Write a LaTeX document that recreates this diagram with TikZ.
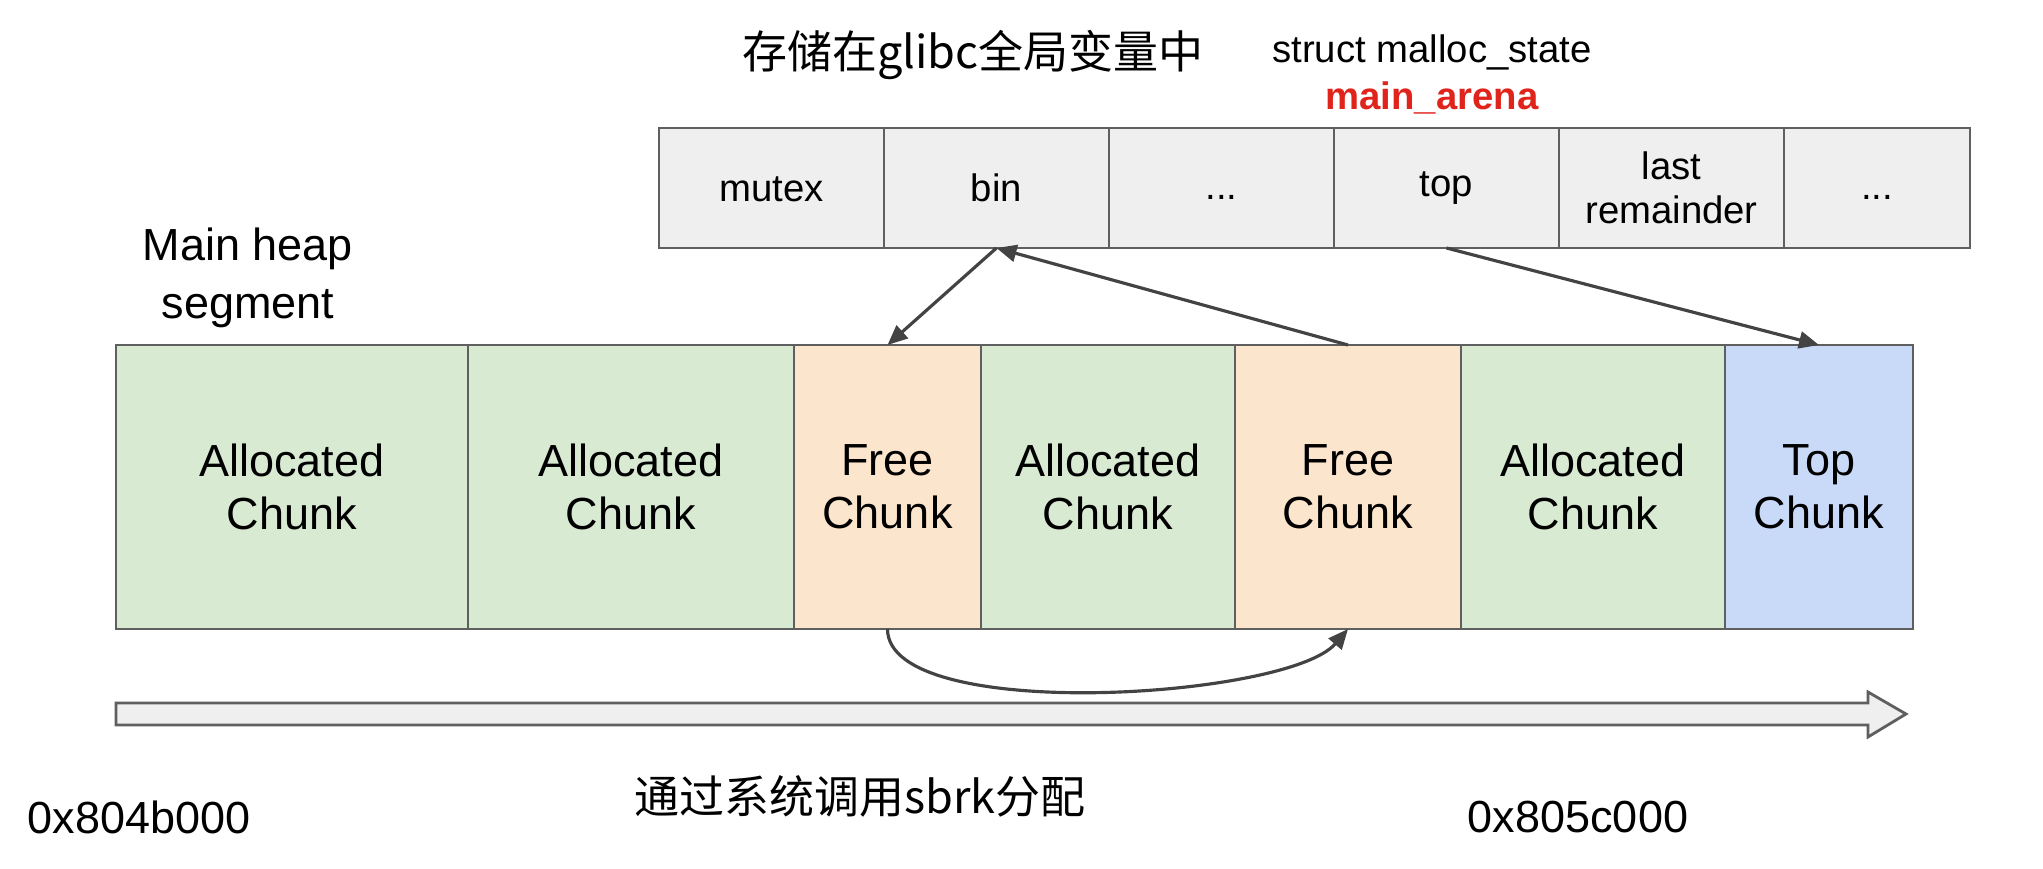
\documentclass[tikz,border=0pt]{standalone}
\usepackage{fontspec}
\setmainfont{Liberation Sans}
\newfontfamily\cjk{Noto Sans CJK SC}
\usetikzlibrary{positioning,arrows.meta}

\definecolor{allocgreen}{HTML}{D9EAD3}
\definecolor{freeorange}{HTML}{FCE5CD}
\definecolor{topblue}{HTML}{C9DAF8}
\definecolor{fieldgray}{HTML}{EFEFEF}
\definecolor{edgegray}{HTML}{5F5F5F}
\definecolor{linkgray}{HTML}{434343}
\definecolor{arenared}{HTML}{E0241B}

\begin{document}
\begin{tikzpicture}[
  field/.style={
    rectangle,
    draw=edgegray,
    line width=0.7pt,
    fill=fieldgray,
    minimum width=2.25cm,
    minimum height=1.2cm,
    inner sep=0pt,
    outer sep=0pt,
    align=center,
    font=\fontsize{10.9}{12.6}\selectfont
  },
  chunk/.style={
    rectangle,
    draw=edgegray,
    line width=0.7pt,
    minimum height=2.84cm,
    inner sep=0pt,
    outer sep=0pt,
    align=center,
    font=\fontsize{12.8}{15.2}\selectfont
  },
  alloc/.style={chunk, fill=allocgreen},
  freed/.style={chunk, fill=freeorange},
  ptr/.style={-{Triangle[length=0.2cm,width=0.17cm]}, linkgray, line width=0.9pt},
  caption/.style={inner sep=0pt, align=center, font=\fontsize{12.8}{16.3}\selectfont}
]
  \useasboundingbox (0,0) rectangle (20.43,-8.69);

  % main_arena fields
  \node[field] (mutex) at (7.715,-1.88) {mutex\vphantom{b}};
  \node[field, right=0pt of mutex] (bin) {bin};
  \node[field, right=0pt of bin] (dotsa) {\raisebox{-3.4pt}[0pt][0pt]{...}};
  \node[field, right=0pt of dotsa] (topf) {top};
  \node[field, right=0pt of topf] (lastrem) {last\\remainder};
  \node[field, right=0pt of lastrem, minimum width=1.86cm] (dotsb) {\raisebox{-3.4pt}[0pt][0pt]{...}};

  \node[caption, font=\cjk\fontsize{12.8}{15}\selectfont] (store) at (9.73,-0.55) {存储在glibc全局变量中};
  \node[caption, font=\fontsize{10.9}{13}\selectfont] (stype) at (14.32,-0.52) {struct malloc\_state};
  \node[caption, font=\bfseries\fontsize{10.9}{13}\selectfont, text=arenared] (arena) at (14.32,-0.98) {main\_arena};

  % heap chunks
  \node[caption] (heap) at (2.48,-2.78) {Main heap\\segment};
  \node[alloc, minimum width=3.52cm] (ca) at (2.92,-4.87) {Allocated\\Chunk};
  \node[alloc, minimum width=3.26cm, right=0pt of ca] (cb) {Allocated\\Chunk};
  \node[freed, minimum width=1.87cm, right=0pt of cb] (fa) {Free\\Chunk};
  \node[alloc, minimum width=2.54cm, right=0pt of fa] (cc) {Allocated\\Chunk};
  \node[freed, minimum width=2.26cm, right=0pt of cc] (fb) {Free\\Chunk};
  \node[alloc, minimum width=2.64cm, right=0pt of fb] (cd) {Allocated\\Chunk};
  \node[chunk, fill=topblue, minimum width=1.88cm, right=0pt of cd] (tc) {Top\\Chunk};

  \draw[ptr] (bin.south) -- (fa.north);
  \draw[ptr] (fb.north) -- (bin.south);
  \draw[ptr] (topf.south) -- (tc.north);
  \draw[ptr] (fa.south) .. controls +(0,-0.95) and +(-0.6,-0.7) .. (fb.south);

  % sbrk growth
  \draw[edgegray, line width=0.8pt, fill=fieldgray, line join=miter]
    (1.16,-7.03) -- (18.68,-7.03) -- (18.68,-6.92) -- (19.06,-7.14)
    -- (18.68,-7.37) -- (18.68,-7.25) -- (1.16,-7.25) -- cycle;

  \node[caption] (lo) at (1.39,-8.17) {0x804b000};
  \node[caption, font=\cjk\fontsize{12.8}{15}\selectfont] (sbrk) at (8.60,-7.96) {通过系统调用sbrk分配};
  \node[caption] (hi) at (15.78,-8.17) {0x805c000};
\end{tikzpicture}
\end{document}
